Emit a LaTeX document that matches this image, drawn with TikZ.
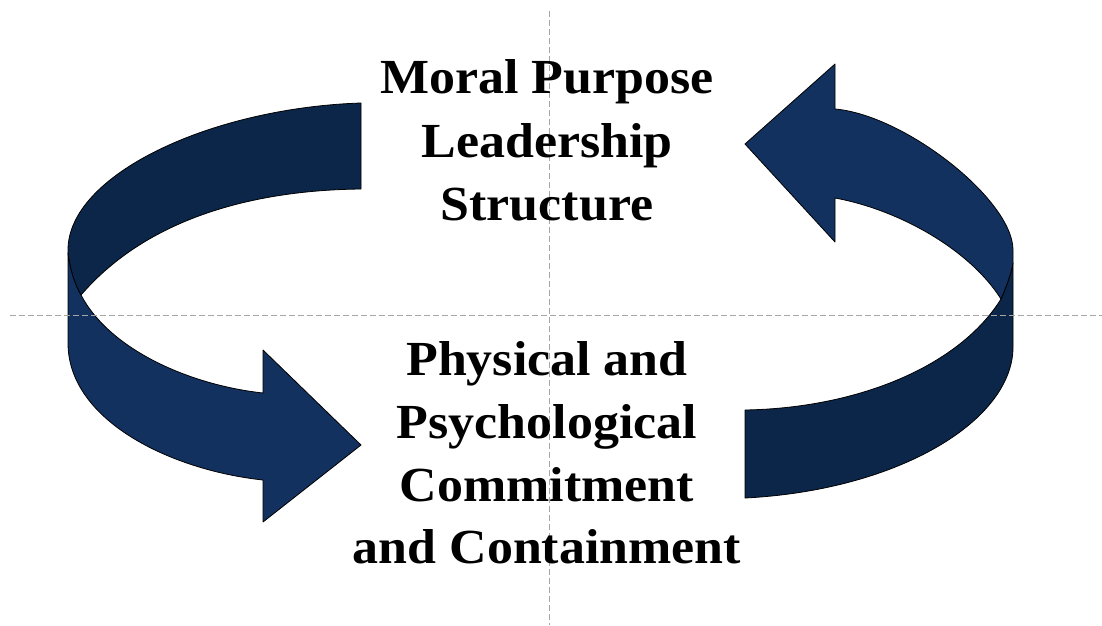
\documentclass[tikz,border=0pt]{standalone}
\usepackage{fontspec}
\setmainfont{Liberation Serif}[FakeStretch=1.06]
\definecolor{frontblue}{HTML}{13315F}
\definecolor{backblue}{HTML}{0B2648}
\definecolor{guidegray}{HTML}{A6A6A6}
\tikzset{
  frontband/.style={fill=frontblue, draw=black, line width=0.8pt, line join=round},
  backband/.style={fill=backblue, draw=black, line width=0.8pt, line join=round},
  guide/.style={draw=guidegray, line width=0.9pt, dash pattern=on 6pt off 3pt},
  lbl/.style={font=\bfseries\fontsize{49}{60}\selectfont, anchor=base, inner sep=0pt, text=black}
}
\begin{document}
\begin{tikzpicture}[x=1pt,y=-1pt]
\useasboundingbox (0,0) rectangle (1102,625);
\fill[white] (0,0) rectangle (1102,625);
% left arrow
\draw[backband] (361,103) .. controls (210,108) and (68,175) .. (68,250) -- (68,253)
  .. controls (70,270) and (75,285) .. (81,295)
  .. controls (150,215) and (260,190) .. (361,189) -- cycle;
\draw[frontband] (68,253) -- (68,343) .. controls (68,420) and (170,470) .. (263,480)
  -- (263,522) -- (361,445) -- (263,350) -- (263,393)
  .. controls (190,385) and (110,350) .. (81,295)
  .. controls (75,285) and (70,270) .. (68,253) -- cycle;
% right arrow
\draw[backband] (1013,263) -- (1013,347) .. controls (1013,420) and (900,490) .. (745,498)
  -- (745,410) .. controls (860,408) and (960,365) .. (1001,299)
  .. controls (1006,287) and (1011,275) .. (1013,263) -- cycle;
\draw[frontband] (835,109) .. controls (905,115) and (1013,200) .. (1013,250) -- (1013,263)
  .. controls (1011,275) and (1006,287) .. (1001,299)
  .. controls (970,250) and (900,210) .. (835,198)
  -- (835,242) -- (745,144) -- (835,64) -- cycle;
% guides
\coordinate (hL) at (10,315);
\coordinate (hR) at (1102,315);
\coordinate (vT) at (549,11);
\coordinate (vB) at (549,625);
\draw[guide] (hL) -- (hR);
\draw[guide] (vT) -- (vB);
% texts
\node[lbl] (t1) at (547,93) {Moral Purpose};
\node[lbl] (t2) at (547,157) {Leadership};
\node[lbl] (t3) at (547,220) {Structure};
\node[lbl] (b1) at (547,375) {Physical and};
\node[lbl] (b2) at (547,438) {Psychological};
\node[lbl] (b3) at (547,501) {Commitment};
\node[lbl] (b4) at (547,563) {and Containment};
\end{tikzpicture}
\end{document}
